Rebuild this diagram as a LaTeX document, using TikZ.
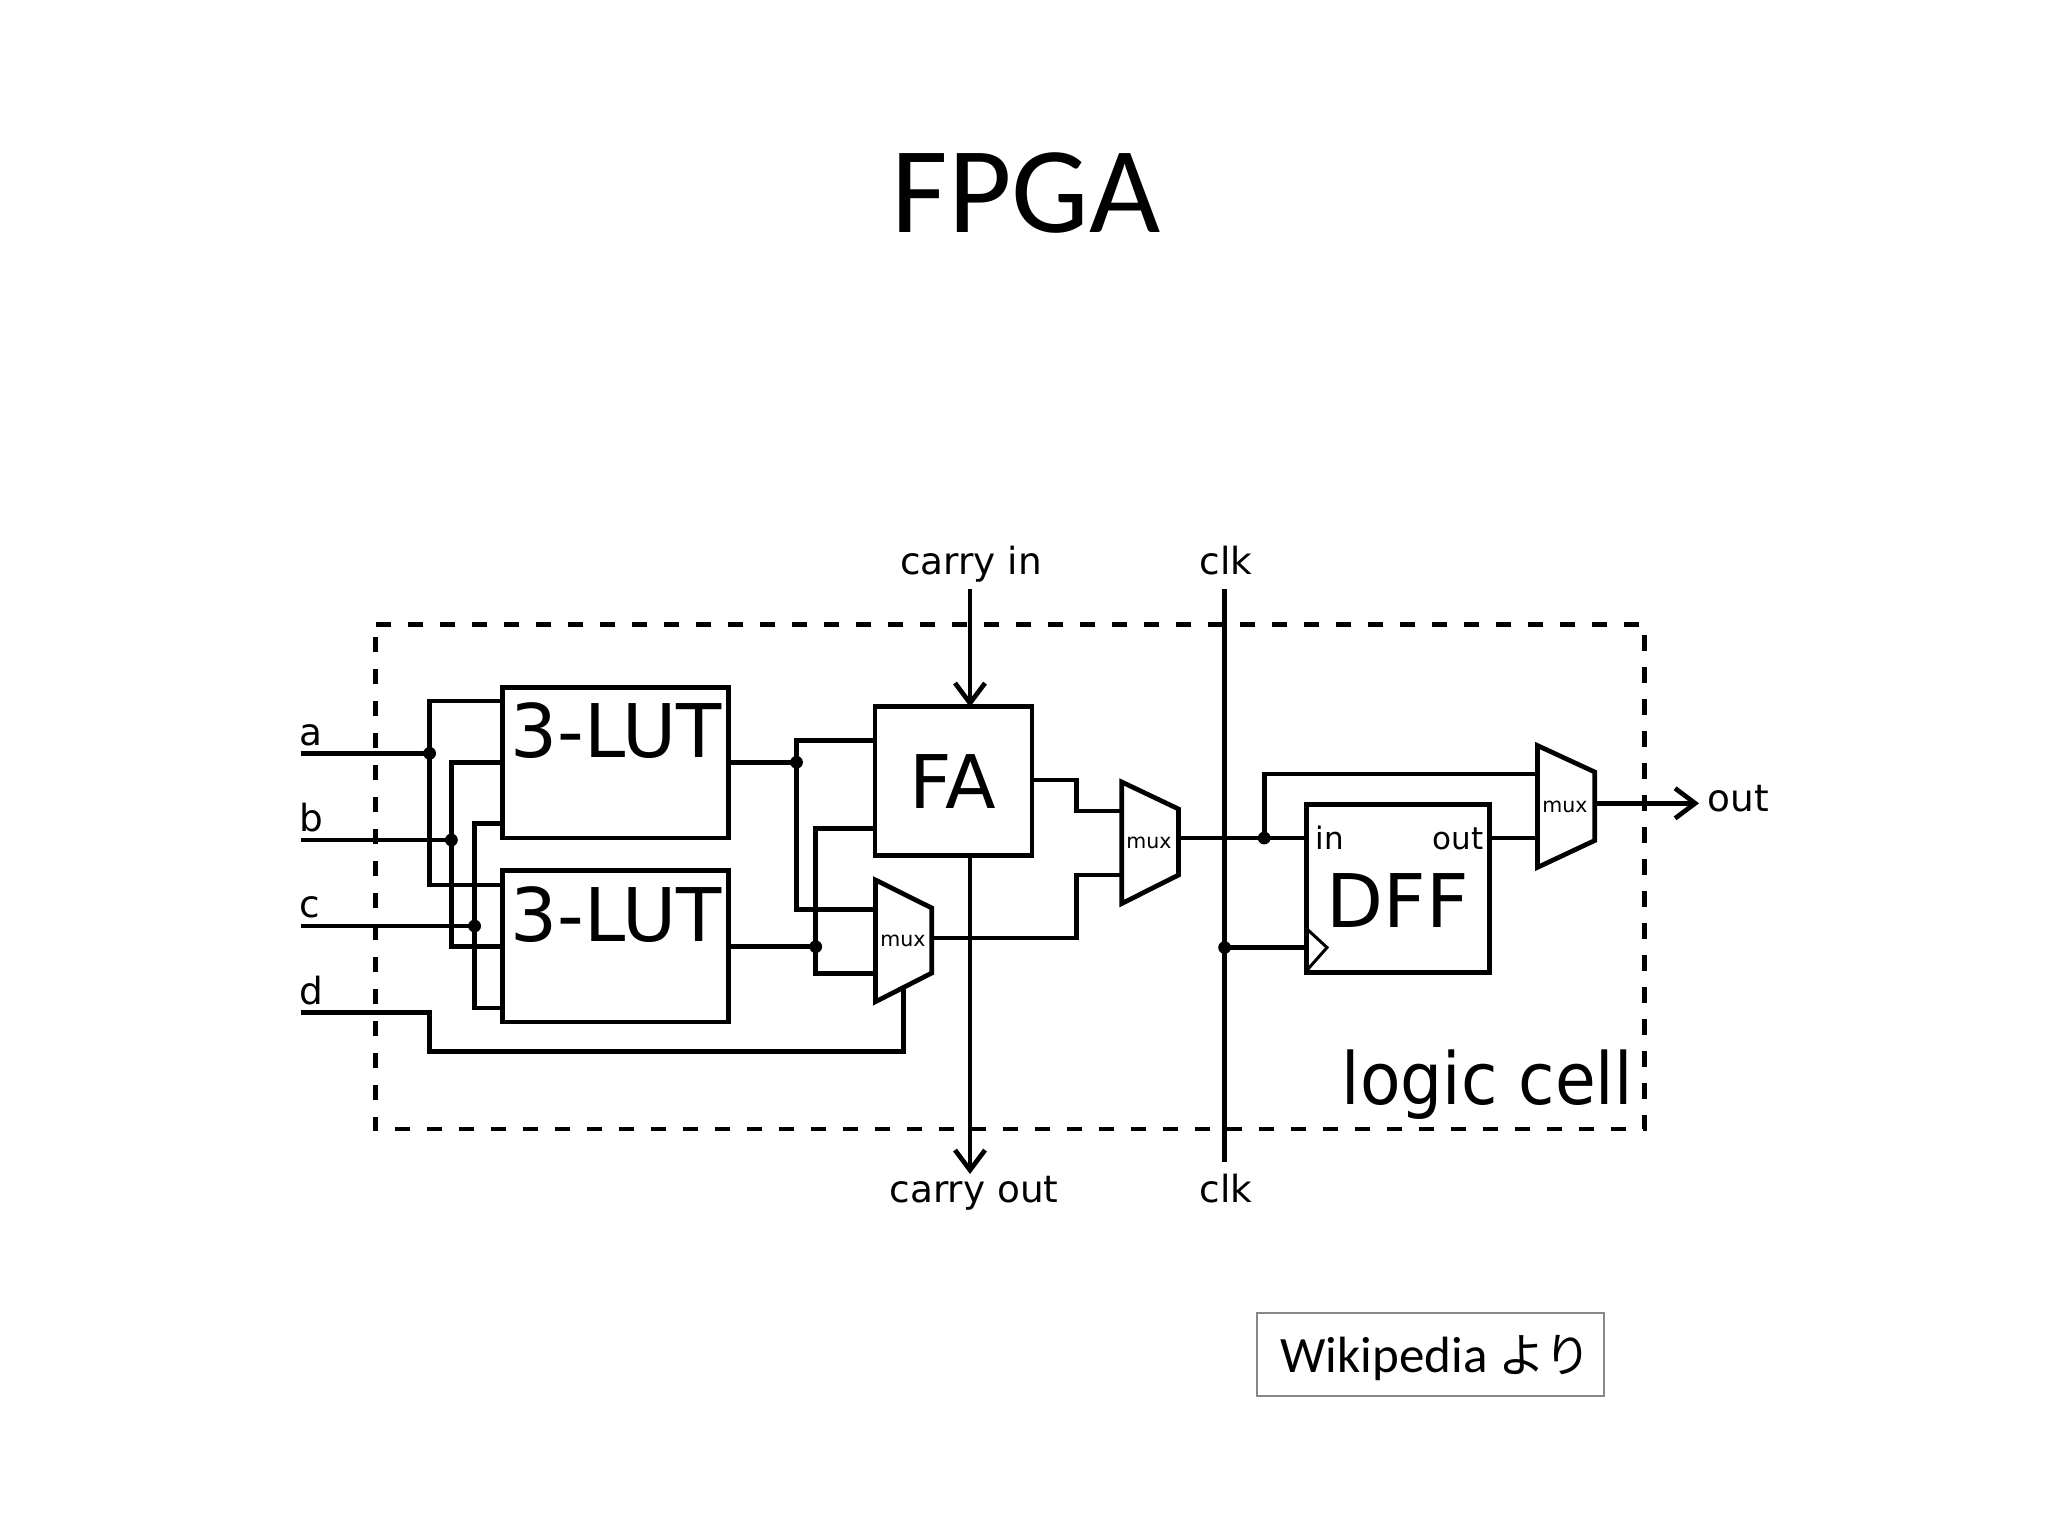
\documentclass[tikz,border=0pt]{standalone}
\usepackage{fontspec}
\setmainfont{DejaVu Sans}
\newfontfamily\titlefont{Carlito}
\newfontfamily\cjkfont{Noto Sans CJK JP}
\usetikzlibrary{arrows.meta}
\tikzset{
  wire/.style={line width=2.35pt,line join=miter,line cap=butt},
  arrowwire/.style={wire,-{Straight Barb[length=10pt,width=15pt,line width=2.35pt]}},
  block/.style={draw,line width=2.35pt,inner sep=0pt,outer sep=0pt,fill=white},
  muxshape/.style={draw,line width=2.35pt,line join=miter,fill=white},
  dot/.style={circle,fill=black,inner sep=0pt,minimum size=6.4pt},
  big/.style={inner sep=0pt,anchor=base,font=\fontsize{37pt}{37pt}\selectfont},
  lab/.style={inner sep=0pt,anchor=base,font=\fontsize{18.7pt}{18.7pt}\selectfont},
  pinlab/.style={inner sep=0pt,anchor=base,font=\fontsize{15.5pt}{15.5pt}\selectfont},
  muxlab/.style={inner sep=0pt,anchor=base,font=\fontsize{10.25pt}{10.25pt}\selectfont},
}
\begin{document}
\begin{tikzpicture}[x=0.5pt,y=-0.5pt]
\useasboundingbox (0,0) rectangle (2048,1536);
\fill[white] (0,0) rectangle (2048,1536);

\node[inner sep=0pt,anchor=base,font=\titlefont\fontsize{61.5pt}{61.5pt}\selectfont] (title) at (1026,232) {FPGA};

% logic cell outline
\coordinate (c1) at (375.5,624.3);
\coordinate (c2) at (1644.5,624.3);
\coordinate (c3) at (1644.5,1129);
\coordinate (c4) at (375.5,1129);
\draw[line width=2.4pt,dash pattern=on 7.6pt off 8.4pt] (c1) -- (c2) -- (c3) -- (c4) -- cycle;
\node[inner sep=0pt,anchor=base east,xscale=0.92,transform shape,font=\fontsize{36pt}{36pt}\selectfont] (cell) at (1633,1104) {logic cell};

% free ends
\coordinate (ina) at (301,753.3);
\coordinate (inb) at (301,840);
\coordinate (inc) at (301,926);
\coordinate (ind) at (301,1012.7);
\coordinate (ja) at (429.6,753.3);
\coordinate (jb) at (451.4,840);
\coordinate (jc) at (474.6,926);
\coordinate (jl1) at (796.5,762.3);
\coordinate (jl2) at (815.7,946.7);
\coordinate (jq) at (1264.2,838);
\coordinate (jclk) at (1224.6,947.5);
\coordinate (cint) at (970,589);
\coordinate (cout) at (970,1174);
\coordinate (clkt) at (1224.6,589);
\coordinate (clkb) at (1224.6,1162);
\coordinate (outend) at (1699,803.3);

% pins
\coordinate (l1a) at (502.3,701);
\coordinate (l1b) at (502.3,762.3);
\coordinate (l1c) at (502.3,823.3);
\coordinate (l2a) at (502.3,885);
\coordinate (l2b) at (502.3,946.7);
\coordinate (l2c) at (502.3,1008);
\coordinate (fa1) at (875.5,740.7);
\coordinate (fa2) at (875.5,828.7);
\coordinate (fao) at (1032.3,780);
\coordinate (fat) at (970,707);
\coordinate (fab) at (970,856);

% mux corners
\coordinate (m1a) at (875.5,880);
\coordinate (m1b) at (931.8,908);
\coordinate (m1c) at (931.8,973);
\coordinate (m1d) at (875.5,1001.7);
\coordinate (m1i) at (875.5,909.3);
\coordinate (m1j) at (875.5,973.3);
\coordinate (m1o) at (931.8,938);
\coordinate (m1s) at (903.7,987);
\coordinate (m2a) at (1121.8,782);
\coordinate (m2b) at (1178.5,809);
\coordinate (m2c) at (1178.5,875);
\coordinate (m2d) at (1121.8,903.5);
\coordinate (m2i) at (1121.8,811);
\coordinate (m2j) at (1121.8,875);
\coordinate (m2o) at (1178.5,838);
\coordinate (m3a) at (1537.4,745.5);
\coordinate (m3b) at (1594.7,772);
\coordinate (m3c) at (1594.7,840.5);
\coordinate (m3d) at (1537.4,867.4);
\coordinate (m3i) at (1537.4,774);
\coordinate (m3j) at (1537.4,838);
\coordinate (m3o) at (1594.7,803.3);
\coordinate (dffi) at (1306.5,838);
\coordinate (dffo) at (1489.2,838);
\coordinate (dffc) at (1306.5,947.5);

% wires
\draw[wire] (ina) -- (ja);
\draw[wire] (inb) -- (jb);
\draw[wire] (inc) -- (jc);
\draw[wire] (l1a) -| (ja) |- (l2a);
\draw[wire] (l1b) -| (jb) |- (l2b);
\draw[wire] (l1c) -| (jc) |- (l2c);
\draw[wire] (ind) -| (429.6,1051.7) -| (m1s);
\draw[wire] (jl1) -- (729,762.3);
\draw[wire] (jl2) -- (729,946.7);
\draw[wire] (fa1) -| (jl1) |- (m1i);
\draw[wire] (fa2) -| (jl2) |- (m1j);
\draw[wire] (m1o) -| (1076.8,875) -- (m2j);
\draw[wire] (fao) -| (1076.8,811) -- (m2i);
\draw[wire] (m2o) -- (dffi);
\draw[wire] (jq) |- (m3i);
\draw[wire] (dffo) -- (m3j);
\draw[wire] (jclk) -- (dffc);

% blocks
\node[block,minimum width=113.2pt,minimum height=75.35pt] (lut1) at (615.5,762.65) {};
\node[block,minimum width=113.2pt,minimum height=75.65pt] (lut2) at (615.5,946.4) {};
\node[block,minimum width=78.4pt,minimum height=74.5pt] (fa) at (953.5,781.3) {};
\node[block,minimum width=91.35pt,minimum height=83.85pt] (dff) at (1398,888.5) {};
\draw[muxshape] (m1a) -- (m1b) -- (m1c) -- (m1d) -- cycle;
\draw[muxshape] (m2a) -- (m2b) -- (m2c) -- (m2d) -- cycle;
\draw[muxshape] (m3a) -- (m3b) -- (m3c) -- (m3d) -- cycle;

% carry, clock, output
\draw[arrowwire] (cint) -- (fat);
\draw[arrowwire] (fab) -- (cout);
\draw[wire] (clkt) -- (clkb);
\draw[arrowwire] (m3o) -- (outend);
\coordinate (trt) at (1308,930);
\coordinate (trm) at (1327,947.5);
\coordinate (trb) at (1308,969);
\draw[line width=1.5pt,line join=miter] (trt) -- (trm) -- (trb);

% junctions
\node[dot] (da) at (ja) {};
\node[dot] (db) at (jb) {};
\node[dot] (dc) at (jc) {};
\node[dot] (dl1) at (jl1) {};
\node[dot] (dl2) at (jl2) {};
\node[dot] (dq) at (jq) {};
\node[dot] (dclk) at (jclk) {};

% texts
\node[big] (t1) at (616,757) {3-LUT};
\node[big] (t2) at (616,941) {3-LUT};
\node[big] (t3) at (953,808) {FA};
\node[big] (t4) at (1398,927.5) {DFF};
\node[muxlab] (x1) at (903,946.7) {mux};
\node[muxlab] (x2) at (1149,848) {mux};
\node[muxlab] (x3) at (1565,812.5) {mux};
\node[pinlab,anchor=base west] (p1) at (1315,849) {in};
\node[pinlab,anchor=base east] (p2) at (1484,849) {out};
\node[lab] (a) at (311,745.5) {a};
\node[lab] (b) at (311,831.5) {b};
\node[lab] (c) at (310,917.5) {c};
\node[lab] (d) at (311,1004.5) {d};
\node[lab] (ci) at (971,574.5) {carry in};
\node[lab] (co) at (974,1202) {carry out};
\node[lab] (ck1) at (1226,574.5) {clk};
\node[lab] (ck2) at (1226,1202) {clk};
\node[lab,anchor=base west] (o) at (1707,811) {out};

% credit
\node[draw=black!47,line width=1pt,minimum width=173.4pt,minimum height=41.5pt,inner sep=0pt] (src) at (1430.7,1354.2) {};
\node[inner sep=0pt,anchor=base west,font=\titlefont\fontsize{25.5pt}{25.5pt}\selectfont] (srct) at (1280,1372.5) {Wikipedia};
\node[inner sep=0pt,anchor=base west,font=\cjkfont\fontsize{23.5pt}{23.5pt}\selectfont] (srck) at (1498,1372) {より};
\end{tikzpicture}
\end{document}
